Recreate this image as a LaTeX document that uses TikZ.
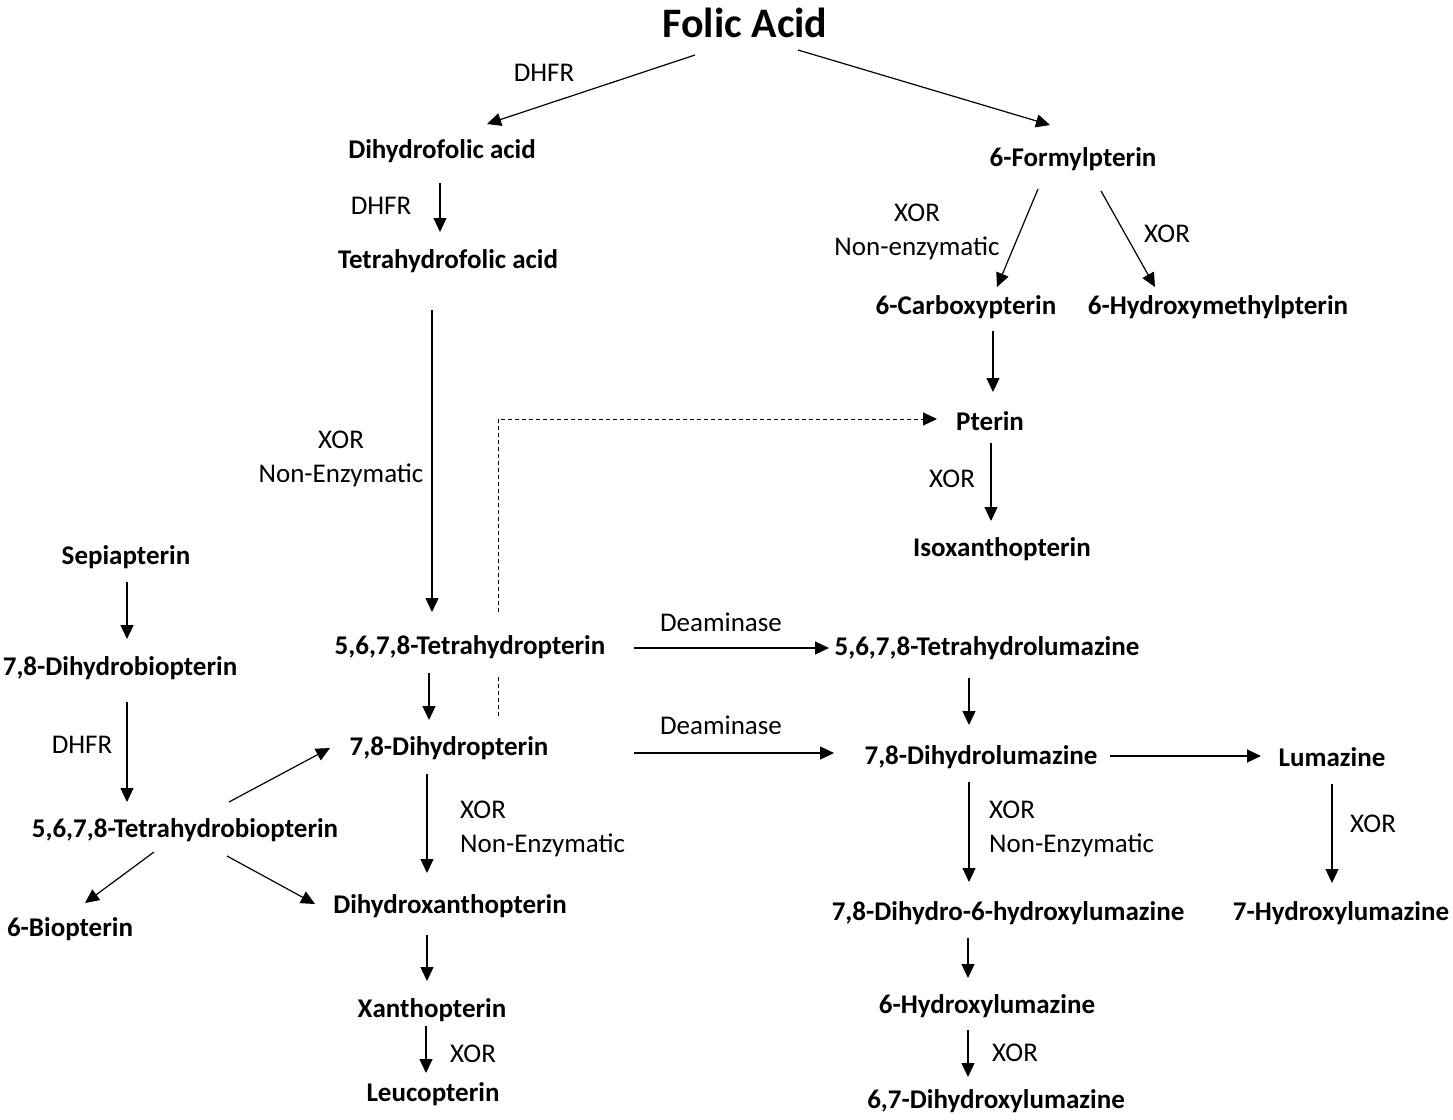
\documentclass[tikz,border=0pt]{standalone}
\usepackage{fontspec}
\setmainfont{Carlito}
\usetikzlibrary{arrows.meta}
\begin{document}
\begin{tikzpicture}[x=1pt,y=-1pt,
  cpd/.style={font=\fontsize{27}{31}\selectfont\bfseries, inner sep=0pt},
  lbl/.style={font=\fontsize{27}{34}\selectfont, inner sep=0pt},
  arr/.style={line width=1.2pt, -{Triangle[length=14pt,width=13pt]}},
  dsh/.style={line width=1pt, dash pattern=on 4pt off 3pt}
]
\fill[white] (0,0) rectangle (1453,1119);
\useasboundingbox (0,0) rectangle (1453,1119);

% compounds
\node[cpd, font=\fontsize{42}{46}\selectfont\bfseries] (folic) at (745,23) {Folic Acid};
\node[cpd] (dhfa) at (442,151) {Dihydrofolic acid};
\node[cpd] (thfa) at (448,261) {Tetrahydrofolic acid};
\node[cpd] (form) at (1073,159) {6-Formylpterin};
\node[cpd] (carb) at (966,307) {6-Carboxypterin};
\node[cpd] (hmp) at (1218,307) {6-Hydroxymethylpterin};
\node[cpd] (pterin) at (990,421) {Pterin};
\node[cpd] (isox) at (1002,549) {Isoxanthopterin};
\node[cpd] (sepi) at (126,557) {Sepiapterin};
\node[cpd] (dhb) at (120,668) {7,8-Dihydrobiopterin};
\node[cpd] (thb) at (185,830) {5,6,7,8-Tetrahydrobiopterin};
\node[cpd] (biop) at (70,929) {6-Biopterin};
\node[cpd] (thp) at (470,647) {5,6,7,8-Tetrahydropterin};
\node[cpd] (dhp) at (449,748) {7,8-Dihydropterin};
\node[cpd] (dhx) at (450,906) {Dihydroxanthopterin};
\node[cpd] (xan) at (432,1010) {Xanthopterin};
\node[cpd] (leu) at (433,1094) {Leucopterin};
\node[cpd] (thl) at (987,648) {5,6,7,8-Tetrahydrolumazine};
\node[cpd] (dhl) at (981,757) {7,8-Dihydrolumazine};
\node[cpd] (lum) at (1332,757) {Lumazine};
\node[cpd] (dh6) at (1008,913) {7,8-Dihydro-6-hydroxylumazine};
\node[cpd] (h7) at (1341,913) {7-Hydroxylumazine};
\node[cpd] (h6) at (987,1006) {6-Hydroxylumazine};
\node[cpd] (d67) at (996,1101) {6,7-Dihydroxylumazine};

% enzyme labels
\node[lbl] (l1) at (544,73) {DHFR};
\node[lbl] (l2) at (381,206) {DHFR};
\node[lbl, align=center] (l3) at (917,232) {XOR\\Non-enzymatic};
\node[lbl] (l4) at (1167,234) {XOR};
\node[lbl] (l5) at (952,479) {XOR};
\node[lbl, align=center] (l6) at (341,459) {XOR\\Non-Enzymatic};
\node[lbl] (l7) at (82,745) {DHFR};
\node[lbl] (l8) at (721,622) {Deaminase};
\node[lbl] (l9) at (721,725) {Deaminase};
\node[lbl, align=left, anchor=west] (l10) at (460,829) {XOR\\Non-Enzymatic};
\node[lbl, align=left, anchor=west] (l11) at (989,829) {XOR\\Non-Enzymatic};
\node[lbl] (l12) at (1373,824) {XOR};
\node[lbl] (l13) at (473,1054) {XOR};
\node[lbl] (l14) at (1015,1053) {XOR};

% connectors
\draw[arr] ([shift={(-50,32)}]folic.center) -- ([shift={(45,-27)}]dhfa.center);
\draw[arr] ([shift={(53,27)}]folic.center) -- ([shift={(-23,-34)}]form.center);
\draw[arr] ([shift={(-2,32)}]dhfa.center) -- ([shift={(-8,-29)}]thfa.center);
\draw[arr] ([shift={(-35,30)}]form.center) -- ([shift={(31,-20)}]carb.center);
\draw[arr] ([shift={(28,32)}]form.center) -- ([shift={(-63,-20)}]hmp.center);
\draw[arr] ([shift={(27,24)}]carb.center) -- ([shift={(3,-29)}]pterin.center);
\draw[arr] ([shift={(1,22)}]pterin.center) -- ([shift={(-11,-28)}]isox.center);
\draw[arr] ([shift={(-16,49)}]thfa.center) -- ([shift={(-38,-35)}]thp.center);
\draw[arr] ([shift={(1,25)}]sepi.center) -- ([shift={(7,-29)}]dhb.center);
\draw[arr] ([shift={(7,34)}]dhb.center) -- ([shift={(-58,-28)}]thb.center);
\draw[arr] ([shift={(44,-28)}]thb.center) -- ([shift={(-119,0)}]dhp.center);
\draw[arr] ([shift={(-31,22)}]thb.center) -- ([shift={(15,-26)}]biop.center);
\draw[arr] ([shift={(42,26)}]thb.center) -- ([shift={(-135,-2)}]dhx.center);
\draw[arr] ([shift={(-41,26)}]thp.center) -- ([shift={(-20,-28)}]dhp.center);
\draw[arr] ([shift={(-22,26)}]dhp.center) -- ([shift={(-23,-33)}]dhx.center);
\draw[arr] ([shift={(-23,29)}]dhx.center) -- ([shift={(-5,-29)}]xan.center);
\draw[arr] ([shift={(-6,16)}]xan.center) -- ([shift={(-7,-21)}]leu.center);
\draw[arr] ([shift={(164,1)}]thp.center) -- ([shift={(-158,0)}]thl.center);
\draw[arr] ([shift={(185,5)}]dhp.center) -- ([shift={(-147,-4)}]dhl.center);
\draw[arr] ([shift={(-18,30)}]thl.center) -- ([shift={(-12,-32)}]dhl.center);
\draw[arr] ([shift={(129,-1)}]dhl.center) -- ([shift={(-71,-1)}]lum.center);
\draw[arr] ([shift={(-12,25)}]dhl.center) -- ([shift={(-39,-31)}]dh6.center);
\draw[arr] ([shift={(0,27)}]lum.center) -- ([shift={(-9,-30)}]h7.center);
\draw[arr] ([shift={(-40,25)}]dh6.center) -- ([shift={(-19,-28)}]h6.center);
\draw[arr] ([shift={(-19,24)}]h6.center) -- ([shift={(-28,-24)}]d67.center);

% dashed connector 7,8-Dihydropterin -> Pterin (interrupted at 5,6,7,8-Tetrahydropterin)
\draw[dsh] ([shift={(49,-32)}]dhp.center) -- ([shift={(28,29)}]thp.center);
\draw[dsh, -{Triangle[length=14pt,width=13pt]}] ([shift={(28,-35)}]thp.center) |- ([shift={(-53,-2)}]pterin.center);
\end{tikzpicture}
\end{document}
